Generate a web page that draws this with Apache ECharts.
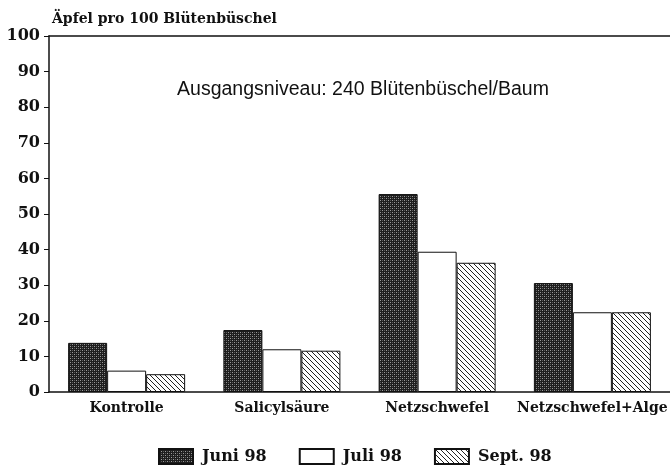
<!DOCTYPE html>
<html>
<head>
<meta charset="utf-8">
<script src="https://cdn.jsdelivr.net/npm/echarts@6/dist/echarts.min.js"></script>
<style>
  html, body { margin: 0; padding: 0; background: #fff; }
  #main { width: 670px; height: 473px; }
</style>
</head>
<body>
<div id="main"></div>
<script>
// Daten
var kategorien = ['Kontrolle', 'Salicylsäure', 'Netzschwefel', 'Netzschwefel+Alge'];
var juni98 = [13.8, 17.4, 55.6, 30.6];
var juli98 = [6.0, 12.0, 39.4, 22.4];
var sept98 = [5.0, 11.6, 36.3, 22.4];
var yTicks = [0, 10, 20, 30, 40, 50, 60, 70, 80, 90, 100];

// Muster fuer die Balken (Raster / Schraffur)
function rasterMuster() {
  var c = document.createElement('canvas');
  c.width = 4; c.height = 4;
  var ctx = c.getContext('2d');
  ctx.fillStyle = '#1e1e1e';
  ctx.fillRect(0, 0, 4, 4);
  ctx.fillStyle = '#9a9a9a';
  ctx.fillRect(0, 0, 1, 1);
  ctx.fillRect(2, 2, 1, 1);
  ctx.fillStyle = '#5a5a5a';
  ctx.fillRect(2, 0, 1, 1);
  ctx.fillRect(0, 2, 1, 1);
  return c;
}
function schraffur() {
  var c = document.createElement('canvas');
  c.width = 5; c.height = 5;
  var ctx = c.getContext('2d');
  ctx.fillStyle = '#ffffff';
  ctx.fillRect(0, 0, 5, 5);
  ctx.fillStyle = '#222';
  for (var i = 0; i < 5; i++) {
    ctx.fillRect(i, i, 1, 1);
  }
  return c;
}

var myChart = echarts.init(document.getElementById('main'));
var serif = 'DejaVu Serif';

var option = {
  animation: false,
  backgroundColor: '#fff',
  title: [{
    text: 'Äpfel pro 100 Blütenbüschel',
    left: 47, top: 7,
    textStyle: { fontFamily: serif, fontWeight: 'bold', fontSize: 14, color: '#111' }
  }, {
    text: 'Ausgangsniveau: 240 Blütenbüschel/Baum',
    left: 358, top: 75, textAlign: 'center',
    textStyle: { fontFamily: 'Liberation Sans', fontWeight: 'normal', fontSize: 19.5, color: '#111' }
  }],
  legend: {
    bottom: 3, left: 153,
    icon: 'rect',
    itemWidth: 34, itemHeight: 15, itemGap: 32,
    textStyle: { fontFamily: serif, fontWeight: 'bold', fontSize: 16, color: '#111', padding: [0, 0, 0, 4] },
    data: ['Juni 98', 'Juli 98', 'Sept. 98']
  },
  grid: { left: 49, right: 0, top: 36, bottom: 81, outerBoundsMode: 'none' },
  xAxis: [{
    type: 'category',
    data: kategorien,
    axisLine: { lineStyle: { color: '#111', width: 1.5 } },
    axisTick: { show: true, alignWithLabel: true, inside: true, length: 6, lineStyle: { color: '#111' } },
    axisLabel: { fontFamily: serif, fontWeight: 'bold', fontSize: 14, color: '#111', margin: 9, interval: 0 }
  }, {
    type: 'category',
    data: kategorien,
    position: 'top',
    axisLine: { lineStyle: { color: '#111', width: 1.5 } },
    axisTick: { show: false },
    axisLabel: { show: false }
  }],
  yAxis: {
    type: 'value',
    min: yTicks[0], max: yTicks[yTicks.length - 1], interval: 10,
    axisLine: { show: true, lineStyle: { color: '#111', width: 1.5 } },
    axisTick: { show: true, length: 5, lineStyle: { color: '#111' } },
    splitLine: { show: false },
    axisLabel: { fontFamily: serif, fontWeight: 'bold', fontSize: 16, color: '#111', margin: 9 }
  },
  series: [{
    name: 'Juni 98', type: 'bar', barWidth: 39, barGap: '0%',
    itemStyle: { color: { image: rasterMuster(), repeat: 'repeat' }, borderColor: '#111', borderWidth: 1 },
    data: juni98
  }, {
    name: 'Juli 98', type: 'bar', barWidth: 39, barGap: '0%',
    itemStyle: { color: '#fff', borderColor: '#111', borderWidth: 1 },
    data: juli98
  }, {
    name: 'Sept. 98', type: 'bar', barWidth: 39, barGap: '0%',
    itemStyle: { color: { image: schraffur(), repeat: 'repeat' }, borderColor: '#111', borderWidth: 1 },
    data: sept98
  }]
};

myChart.setOption(option);
</script>
</body>
</html>
